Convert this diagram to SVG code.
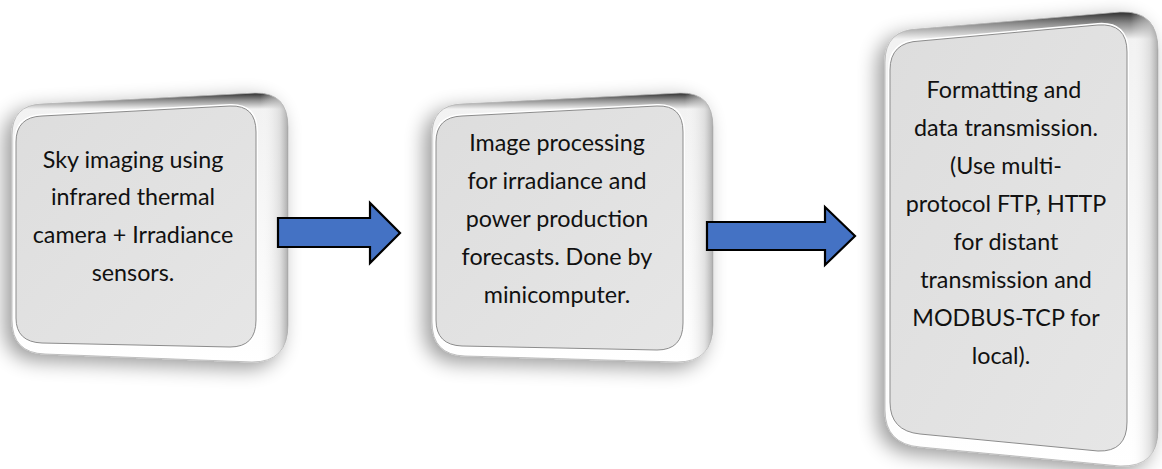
<svg xmlns="http://www.w3.org/2000/svg" width="1162" height="469" viewBox="0 0 1162 469">
  <defs>
    <filter id="shadow" x="-20%" y="-20%" width="140%" height="140%">
      <feGaussianBlur in="SourceAlpha" stdDeviation="10"/>
      <feOffset dx="-7" dy="6" result="b"/>
      <feComponentTransfer><feFuncA type="linear" slope="0.4"/></feComponentTransfer>
      <feMerge><feMergeNode/><feMergeNode in="SourceGraphic"/></feMerge>
    </filter>
    <linearGradient id="rim" x1="0" y1="0" x2="0" y2="1">
      <stop offset="0" stop-color="#2e2e2e"/>
      <stop offset="0.025" stop-color="#8a8a8a"/>
      <stop offset="0.06" stop-color="#f2f2f2"/>
      <stop offset="1" stop-color="#ffffff"/>
    </linearGradient>
    <linearGradient id="rimSide" x1="0" y1="0" x2="1" y2="0">
      <stop offset="0" stop-color="#ffffff" stop-opacity="0"/>
      <stop offset="0.9" stop-color="#ffffff" stop-opacity="0"/>
      <stop offset="0.97" stop-color="#d0d0d0" stop-opacity="0.6"/>
      <stop offset="1" stop-color="#9a9a9a" stop-opacity="0.8"/>
    </linearGradient>
    <linearGradient id="face" x1="0" y1="0" x2="1" y2="1">
      <stop offset="0" stop-color="#dddddd"/>
      <stop offset="1" stop-color="#e6e6e6"/>
    </linearGradient>
  </defs>
  <style>
    .rim { fill: url(#rim); stroke: #b4b4b4; stroke-width: 0.8; }
    .rimside { fill: url(#rimSide); stroke: none; }
    .facehl { fill: none; stroke: #ffffff; stroke-width: 4; }
    .face { fill: url(#face); stroke: #8c8c8c; stroke-width: 1; }
    .lbl { font-family: Lato, "Liberation Sans", sans-serif; font-size: 23.3px; fill: #111111; text-anchor: middle; }
    .arrow { fill: #4472C4; stroke: #000000; stroke-width: 2.2; stroke-linejoin: miter; }
  </style>
  <rect width="1162" height="469" fill="#ffffff"/>

  <g id="node1">
    <g filter="url(#shadow)">
      <path class="rim" d="M 12,135 Q 12,105 42,104 L 255,93 Q 288,92 288,127 L 288,325 Q 288,362 252,362 L 45,354 Q 12,353 12,320 Z"/>
    </g>
    <path class="rimside" d="M 12,135 Q 12,105 42,104 L 255,93 Q 288,92 288,127 L 288,325 Q 288,362 252,362 L 45,354 Q 12,353 12,320 Z"/>
    <path class="facehl" d="M 16,142 Q 16,117 42,116 L 230,106 Q 256,105 256,132 L 256,320 Q 256,347 230,347 L 42,343 Q 16,342 16,318 Z"/>
    <path class="face" d="M 16,142 Q 16,117 42,116 L 230,106 Q 256,105 256,132 L 256,320 Q 256,347 230,347 L 42,343 Q 16,342 16,318 Z"/>
    <text class="lbl" x="133" y="168">Sky imaging using</text>
    <text class="lbl" x="133" y="205">infrared thermal</text>
    <text class="lbl" x="133" y="243">camera + Irradiance</text>
    <text class="lbl" x="133" y="281">sensors.</text>
  </g>

  <g id="node2">
    <g filter="url(#shadow)">
      <path class="rim" d="M 432,135 Q 432,105 462,104 L 680,93 Q 713,92 713,127 L 713,325 Q 713,362 677,362 L 465,356 Q 432,355 432,322 Z"/>
    </g>
    <path class="rimside" d="M 432,135 Q 432,105 462,104 L 680,93 Q 713,92 713,127 L 713,325 Q 713,362 677,362 L 465,356 Q 432,355 432,322 Z"/>
    <path class="facehl" d="M 436,142 Q 436,117 462,116 L 657,106 Q 683,105 683,132 L 683,323 Q 683,350 657,350 L 462,346 Q 436,345 436,320 Z"/>
    <path class="face" d="M 436,142 Q 436,117 462,116 L 657,106 Q 683,105 683,132 L 683,323 Q 683,350 657,350 L 462,346 Q 436,345 436,320 Z"/>
    <text class="lbl" x="557" y="151">Image processing</text>
    <text class="lbl" x="557" y="189">for irradiance and</text>
    <text class="lbl" x="557" y="227">power production</text>
    <text class="lbl" x="557" y="265">forecasts. Done by</text>
    <text class="lbl" x="557" y="303">minicomputer.</text>
  </g>

  <g id="node3">
    <g filter="url(#shadow)">
      <path class="rim" d="M 885,62 Q 885,30 918,29 L 1120,12 Q 1158,10 1158,50 L 1158,430 Q 1158,467 1120,466 L 920,447 Q 885,444 885,410 Z"/>
    </g>
    <path class="rimside" d="M 885,62 Q 885,30 918,29 L 1120,12 Q 1158,10 1158,50 L 1158,430 Q 1158,467 1120,466 L 920,447 Q 885,444 885,410 Z"/>
    <path class="facehl" d="M 890,70 Q 890,42 920,41 L 1098,25 Q 1127,23 1127,52 L 1127,422 Q 1127,452 1098,451 L 920,434 Q 890,431 890,402 Z"/>
    <path class="face" d="M 890,70 Q 890,42 920,41 L 1098,25 Q 1127,23 1127,52 L 1127,422 Q 1127,452 1098,451 L 920,434 Q 890,431 890,402 Z"/>
    <text class="lbl" x="1004" y="98">Formatting and</text>
    <text class="lbl" x="1006" y="136">data transmission.</text>
    <text class="lbl" x="1006" y="174">(Use multi-</text>
    <text class="lbl" x="1006" y="212">protocol FTP, HTTP</text>
    <text class="lbl" x="1006" y="250">for distant</text>
    <text class="lbl" x="1006" y="288">transmission and</text>
    <text class="lbl" x="1006" y="326">MODBUS-TCP for</text>
    <text class="lbl" x="1001" y="364">local).</text>
  </g>

  <g id="connectors">
    <polygon class="arrow" points="278,218 370,218 370,203 400,233 370,263 370,247 278,247"/>
    <polygon class="arrow" points="707,222 825,222 825,207 855,236 825,265 825,250 707,250"/>
  </g>
</svg>
